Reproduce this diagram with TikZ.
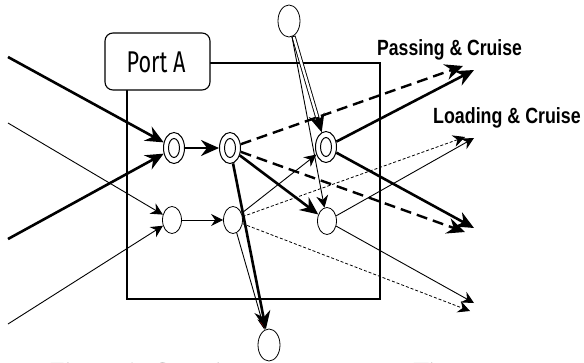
\documentclass[tikz,border=0pt]{standalone}
\usepackage{fontspec}
\usepackage{graphicx}
\setmainfont{Liberation Serif}
\newfontfamily\labelfont{Liberation Sans}
\newfontfamily\portfont{Fira Sans}
\usetikzlibrary{arrows.meta,shapes.geometric}

\begin{document}
\begin{tikzpicture}[x=1pt,y=-1pt,
  outer/.style={draw,ellipse,inner sep=0pt,minimum width=21pt,minimum height=31pt,line width=1pt},
  inner/.style={draw,ellipse,inner sep=0pt,minimum width=11pt,minimum height=19pt,line width=1pt},
  oval/.style={draw,ellipse,inner sep=0pt,minimum width=19pt,minimum height=27pt,line width=0.8pt},
  bigtip/.style={-{Stealth[length=18pt,width=16pt,inset=6pt]}},
  smalltip/.style={-{Stealth[length=12pt,width=12pt,inset=4pt]}},
  heavy/.style={line width=2.6pt,bigtip},
  heavydash/.style={line width=2.4pt,dash pattern=on 11pt off 6pt,bigtip},
  light/.style={line width=0.9pt,smalltip},
  lightdot/.style={line width=0.8pt,dash pattern=on 3pt off 2pt,smalltip},
  portline/.style={line width=2.2pt,line join=miter},
  flowlabel/.style={anchor=base west,inner sep=0pt}
]
\useasboundingbox (0,0) rectangle (584,362);
\clip (0,0) rectangle (584,362);

% port region and its name tag
\draw[portline] (127,63) rectangle (380,299);
\node[draw,fill=white,rounded corners=8pt,line width=1.1pt,minimum width=105pt,minimum height=57pt,inner sep=0pt] (port) at (157.5,61.5) {};
\node[inner sep=0pt] (portname) at (156,62) {\scalebox{0.72}[1]{\portfont\fontsize{30}{30}\selectfont Port A}};

% time-space nodes: upper row = vessel nodes, lower row = container nodes
\node[outer] (N1) at (174,148) {};
\node[inner] at (N1) {};
\node[outer] (N2) at (230,148) {};
\node[inner] at (N2) {};
\node[outer] (N3) at (326,147) {};
\node[inner] at (N3) {};
\node[oval] (M1) at (172,220) {};
\node[oval] (M2) at (233,220) {};
\node[oval] (M3) at (327,221) {};
\node[oval,minimum width=22pt,minimum height=32pt] (T) at (289,21) {};
\node[oval,minimum width=22pt,minimum height=32pt] (B) at (269,345) {};

% loose ends of incoming and outgoing arcs
\coordinate (inA) at (8,57);
\coordinate (inB) at (8,239);
\coordinate (inC) at (8,123);
\coordinate (inD) at (8,324);
\coordinate (pasS) at (474,70);
\coordinate (pasD) at (463,66);
\coordinate (loaS) at (474,138);
\coordinate (loaD) at (465,137);
\coordinate (dwnS) at (474,228);
\coordinate (dwnD) at (465,232);
\coordinate (lowS) at (474,303);
\coordinate (lowD) at (470,311);

% incoming arcs
\draw[heavy] (inA) -- (N1);
\draw[heavy] (inB) -- (N1);
\draw[light] (inC) -- (M1);
\draw[light] (inD) -- (M1);

% arcs inside the port
\draw[heavy] (N1) -- (N2);
\draw[light] (M1) -- (M2);
\draw[heavy] (N2) -- (M3);
\draw[light] (M2) -- (N3);
\draw[heavydash] (N2) -- (pasD);
\draw[heavydash] (N2) -- (dwnD);
\draw[lightdot] (M2) -- (loaD);
\draw[lightdot] (M2) -- (lowD);

% outgoing arcs
\draw[heavy] (N3) -- (pasS);
\draw[heavy] (N3) -- (dwnS);
\draw[light] (M3) -- (loaS);
\draw[light] (M3) -- (lowS);

% arcs from the upper node
\draw[line width=4.2pt,bigtip] (T) -- (N3);
\draw[white,line width=2.4pt,shorten >=16pt,shorten <=1pt] (T) -- (N3);
\draw[light] (T) -- (M3);

% arcs to the lower node
\draw[line width=0.9pt,-{Stealth[length=12pt,width=8pt,inset=3pt,fill=red]}] (M2) -- (B);
\draw[heavy] (N2) -- (B);

% flow labels
\node[flowlabel] (lpas) at (377,55) {\scalebox{0.8}[1]{\labelfont\bfseries\fontsize{22}{22}\selectfont Passing \& Cruise}};
\node[flowlabel] (lload) at (433,123) {\scalebox{0.81}[1]{\labelfont\bfseries\fontsize{22}{22}\selectfont Loading \& Cruise}};

% caption
\node[anchor=base west,inner sep=0pt] (cap) at (50,380) {\fontsize{26}{26}\selectfont Figure 1. Container transport over Time-space network};
\end{tikzpicture}
\end{document}
